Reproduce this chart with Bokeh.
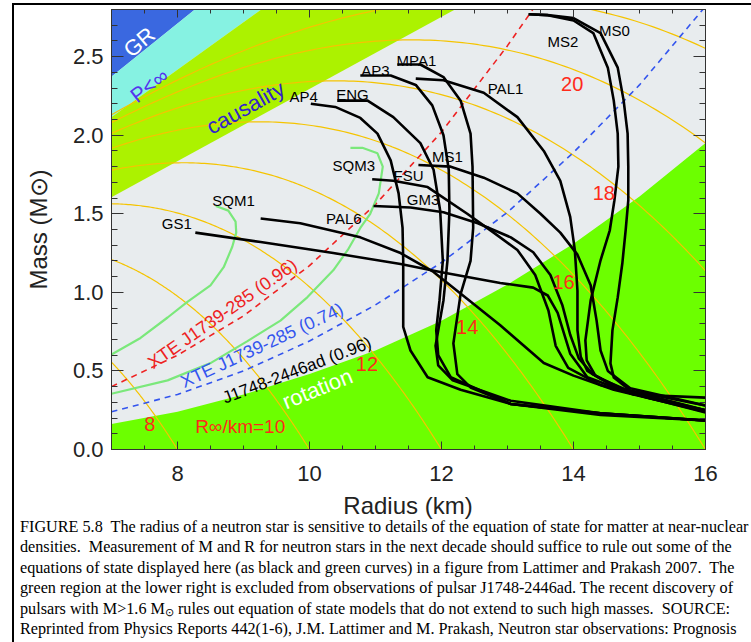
import numpy as np
from bokeh.plotting import figure
from bokeh.layouts import column
from bokeh.models import (Range1d, FixedTicker, LinearAxis, Label, ColumnDataSource,
                          PrintfTickFormatter, Div)
from bokeh.core.properties import value
from bokeh.embed import file_html
from bokeh.resources import INLINE

# ---------------- axes ----------------
x_ticks = [8, 10, 12, 14, 16]
y_ticks = [0.0, 0.5, 1.0, 1.5, 2.0, 2.5]
x_minor = list(np.arange(7.0, 16.01, 0.5))
y_minor = list(np.round(np.arange(0.0, 2.801, 0.1), 2))
x_title = "Radius (km)"
y_title = "Mass (M\u2299)"

# ---------------- excluded regions (R km, M Msun) ----------------
gr_R = [6.9, 8.56, 6.9]
gr_M = [2.34, 2.9, 2.9]
pinf_R = [6.9, 9.6, 8.56, 6.9]
pinf_M = [2.085, 2.9, 2.9, 2.34]
caus_R = [6.9, 12.64, 9.6, 6.9]
caus_M = [1.583, 2.9, 2.9, 2.085]
rot_R = [6.9, 7.0, 8.0, 9.0, 10.0, 11.0, 12.0, 13.0, 14.0, 15.0, 16.0, 16.1, 16.1, 6.9]
rot_M = [0.155, 0.163, 0.24, 0.35, 0.48, 0.63, 0.82, 1.05, 1.31, 1.61, 1.95, 1.99, -0.1, -0.1]

# XTE J1739-285 mass-shedding curves
xte96_R = [7.0, 8.0, 9.0, 10.0, 11.0, 12.0, 13.0, 13.4]
xte96_M = [0.40, 0.60, 0.85, 1.17, 1.56, 2.02, 2.57, 2.81]
xte74_R = [7.0, 8.0, 9.0, 10.0, 11.0, 12.0, 13.0, 14.0, 15.0, 16.0]
xte74_M = [0.24, 0.35, 0.50, 0.69, 0.92, 1.19, 1.51, 1.89, 2.32, 2.82]

# R_infinity contours (km)
rinf_values = [8, 10, 12, 14, 16, 18, 20, 22]
rs_per_msun = 2.953  # 2GM_sun/c^2 in km

# ---------------- equations of state ----------------
gs1_R = [8.27, 9.26, 10.36, 11.38, 11.98, 12.89, 13.39, 13.61, 13.76, 13.95, 14.21, 14.91, 16.0]
gs1_M = [1.38, 1.32, 1.25, 1.18, 1.13, 1.06, 1.03, 0.98, 0.87, 0.61, 0.46, 0.35, 0.33]
pal6_R = [9.26, 9.86, 10.77, 11.38, 11.88, 12.89, 13.55, 14.0, 14.61, 16.0]
pal6_M = [1.47, 1.44, 1.35, 1.25, 1.13, 0.79, 0.55, 0.47, 0.38, 0.24]
fsu_R = [10.95, 11.27, 11.79, 12.39, 12.79, 13.15, 13.42, 13.62, 13.73, 13.92, 14.41, 15.17, 16.0]
fsu_M = [1.72, 1.71, 1.67, 1.50, 1.38, 1.27, 1.11, 0.885, 0.66, 0.52, 0.41, 0.325, 0.25]
gm3_R = [10.97, 11.53, 12.03, 12.55, 13.05, 13.39, 13.65, 13.83, 13.95, 14.08, 14.29, 14.71, 16.0]
gm3_M = [1.55, 1.54, 1.51, 1.44, 1.35, 1.255, 1.11, 0.92, 0.73, 0.58, 0.48, 0.39, 0.25]
ms1_R = [11.65, 12.14, 12.64, 13.15, 13.5, 13.80, 14.06, 14.26, 14.35, 14.41, 14.52, 14.86, 16.0]
ms1_M = [1.81, 1.80, 1.73, 1.63, 1.50, 1.38, 1.24, 1.045, 0.82, 0.63, 0.50, 0.39, 0.28]
ap4_R = [10.02, 10.39, 10.77, 11.03, 11.23, 11.35, 11.41, 11.42, 11.42, 11.53, 11.79, 12.29, 13.05, 14.41, 16.0]
ap4_M = [2.20, 2.18, 2.11, 2.01, 1.84, 1.63, 1.41, 1.20, 0.78, 0.63, 0.46, 0.38, 0.29, 0.23, 0.185]
eng_R = [10.42, 10.88, 11.27, 11.68, 11.88, 11.98, 12.02, 11.97, 11.92, 11.95, 12.14, 13.05, 14.41, 16.0]
eng_M = [2.22, 2.22, 2.115, 1.95, 1.78, 1.52, 1.20, 0.95, 0.76, 0.60, 0.46, 0.29, 0.22, 0.185]
ap3_R = [10.77, 11.23, 11.61, 11.86, 12.03, 12.11, 12.12, 12.09, 12.03, 11.91, 11.95, 12.17, 13.05, 14.41, 16.0]
ap3_M = [2.38, 2.38, 2.32, 2.19, 2.00, 1.78, 1.52, 1.20, 0.95, 0.66, 0.535, 0.44, 0.31, 0.23, 0.185]
mpa1_R = [11.33, 11.68, 12.03, 12.29, 12.44, 12.47, 12.48, 12.44, 12.29, 12.18, 12.24, 12.44, 13.05, 14.41, 16.0]
mpa1_M = [2.45, 2.45, 2.37, 2.22, 2.01, 1.80, 1.41, 1.20, 0.99, 0.675, 0.48, 0.395, 0.29, 0.23, 0.185]
pal1_R = [11.61, 12.03, 12.64, 13.15, 13.55, 13.80, 13.95, 14.02, 14.06, 14.06, 14.11, 14.21, 14.41, 14.91, 16.0]
pal1_M = [2.36, 2.35, 2.27, 2.115, 1.90, 1.71, 1.48, 1.27, 1.01, 0.76, 0.59, 0.50, 0.45, 0.36, 0.25]
ms2_R = [13.32, 13.61, 14.0, 14.30, 14.52, 14.61, 14.67, 14.68, 14.62, 14.55, 14.41, 14.26, 14.18, 14.20, 14.33, 14.71, 16.0]
ms2_M = [2.77, 2.764, 2.73, 2.65, 2.43, 2.22, 2.01, 1.80, 1.586, 1.395, 1.204, 0.949, 0.694, 0.567, 0.471, 0.376, 0.236]
ms0_R = [13.32, 13.61, 14.0, 14.41, 14.67, 14.76, 14.82, 14.83, 14.83, 14.79, 14.74, 14.67, 14.59, 14.56, 14.61, 14.86, 16.0]
ms0_M = [2.77, 2.764, 2.745, 2.65, 2.43, 2.22, 2.01, 1.80, 1.586, 1.395, 1.185, 0.968, 0.758, 0.548, 0.459, 0.376, 0.28]
# strange quark matter (green)
sqm1_R = [8.58, 8.77, 8.88, 8.89, 8.83, 8.70, 8.5, 8.15, 7.85, 7.44, 7.0]
sqm1_M = [1.55, 1.52, 1.45, 1.38, 1.29, 1.16, 1.045, 0.94, 0.84, 0.71, 0.605]
sqm3_R = [10.62, 10.80, 11.03, 11.11, 11.05, 10.92, 10.77, 10.58, 10.36, 9.97, 9.56, 9.06, 8.5, 7.85, 7.0]
sqm3_M = [1.92, 1.92, 1.885, 1.80, 1.63, 1.50, 1.41, 1.27, 1.14, 0.97, 0.82, 0.69, 0.55, 0.44, 0.355]

eos_curves = [(gs1_R, gs1_M), (pal6_R, pal6_M), (fsu_R, fsu_M), (gm3_R, gm3_M), (ms1_R, ms1_M),
              (ap4_R, ap4_M), (eng_R, eng_M), (ap3_R, ap3_M), (mpa1_R, mpa1_M), (pal1_R, pal1_M),
              (ms2_R, ms2_M), (ms0_R, ms0_M)]
sqm_curves = [(sqm1_R, sqm1_M), (sqm3_R, sqm3_M)]

eos_names = ["GS1", "SQM1", "PAL6", "SQM3", "AP4", "ENG", "AP3", "MPA1", "PAL1", "MS2", "MS0", "MS1", "FSU", "GM3"]
eos_label_R = [7.99, 8.85, 10.52, 10.67, 9.91, 10.65, 11.0, 11.62, 12.97, 13.84, 14.62, 12.09, 11.5, 11.72]
eos_label_M = [1.441, 1.586, 1.469, 1.809, 2.244, 2.259, 2.414, 2.478, 2.297, 2.594, 2.664, 1.862, 1.745, 1.590]

rinf_labels = ["8", "12", "14", "16", "18", "20"]
rinf_label_R = [7.58, 10.87, 12.39, 13.85, 14.46, 13.98]
rinf_label_M = [0.164, 0.546, 0.779, 1.066, 1.633, 2.329]

caption_lines = [
    "FIGURE 5.8&nbsp; The radius of a neutron star is sensitive to details of the equation of state for matter at near-nuclear",
    "densities.&nbsp; Measurement of M and R for neutron stars in the next decade should suffice to rule out some of the",
    "equations of state displayed here (as black and green curves) in a figure from Lattimer and Prakash 2007.&nbsp; The",
    "green region at the lower right is excluded from observations of pulsar J1748-2446ad. The recent discovery of",
    "pulsars with M&gt;1.6 M<span style='font-size:11px;line-height:0;vertical-align:-2px'>\u2299</span> rules out equation of state models that do not extend to such high masses.&nbsp; SOURCE:",
    "Reprinted from Physics Reports 442(1-6), J.M. Lattimer and M. Prakash, Neutron star observations: Prognosis",
    "for equation of state constraints, pp. 109-165. Copyright 2007, with permission from Elsevier.",
]

FONT = "Liberation Sans"

p = figure(width=751, height=493, x_range=Range1d(7, 16), y_range=Range1d(0, 2.8),
           output_backend="svg", toolbar_location=None,
           min_border_left=111, min_border_right=46, min_border_top=9, min_border_bottom=44)
p.background_fill_color = "#e8ecee"
p.border_fill_color = "white"
p.outline_line_color = "#333333"
p.grid.visible = False

# regions
p.patch(gr_R, gr_M, fill_color="#3a68e0", line_color=None)
p.patch(pinf_R, pinf_M, fill_color="#86f2e2", line_color=None)
p.patch(caus_R, caus_M, fill_color="#acf200", line_color=None)
p.patch(rot_R, rot_M, fill_color="#6cff00", line_color=None)

# R_inf contours
for rinf in rinf_values:
    rr = np.linspace(7.0, rinf, 160)
    mm = rr / rs_per_msun * (1 - (rr / rinf) ** 2)
    keep = mm <= 2.9
    p.line(rr[keep], mm[keep], line_color="#f5c400", line_width=1.2)

# XTE curves
p.line(xte96_R, xte96_M, line_color="#ee2222", line_width=1.6, line_dash="6 5")
p.line(xte74_R, xte74_M, line_color="#3355ee", line_width=1.6, line_dash="6 5")

for r, m in sqm_curves:
    p.line(r, m, line_color="#7be87b", line_width=2.2)
for r, m in eos_curves:
    p.line(r, m, line_color="black", line_width=2.6, line_join="round")

src = ColumnDataSource(dict(x=eos_label_R, y=eos_label_M, t=eos_names))
p.text("x", "y", "t", source=src, text_font=value(FONT), text_font_size="15px",
       text_align="center", text_baseline="middle", text_color="black")
src2 = ColumnDataSource(dict(x=rinf_label_R, y=rinf_label_M, t=rinf_labels))
p.text("x", "y", "t", source=src2, text_font=value(FONT), text_font_size="20px",
       text_align="center", text_baseline="middle", text_color="#ff2a1a")

def lab(x, y, text, color, size, angle):
    p.add_layout(Label(x=x, y=y, text=text, text_color=color, text_font=FONT, text_font_size=size,
                       angle=angle, angle_units="deg", text_align="center", text_baseline="middle"))

lab(8.95, 0.146, "R\u221e/km=10", "#ff2a1a", "19px", 0)
lab(7.42, 2.592, "GR", "white", "22px", 40)
lab(7.57, 2.318, "P<\u221e", "#5533ee", "21px", 37)
lab(9.03, 2.175, "causality", "#3322cc", "22px", 29)
lab(10.12, 0.387, "rotation", "white", "22px", 22)
lab(9.81, 0.503, "J1748-2446ad (0.96)", "black", "17px", 21)
lab(9.28, 0.662, "XTE J1739-285 (0.74)", "#3355ee", "18px", 25)
lab(8.68, 0.864, "XTE J1739-285 (0.96)", "#ee2222", "18px", 35)

# axes styling
xa = p.xaxis[0]
ya = p.yaxis[0]
xa.ticker = FixedTicker(ticks=x_ticks, minor_ticks=x_minor)
ya.ticker = FixedTicker(ticks=y_ticks, minor_ticks=y_minor)
ya.formatter = PrintfTickFormatter(format="%.1f")
ya.axis_label = y_title
for ax, mj, mn, so, lso in [(xa, 8, 4, 16, 7), (ya, 12, 6, 8, 18)]:
    ax.major_tick_in = mj; ax.major_tick_out = 0
    ax.minor_tick_in = mn; ax.minor_tick_out = 0
    ax.axis_line_color = "#333333"; ax.major_tick_line_color = "#333333"; ax.minor_tick_line_color = "#333333"
    ax.major_label_text_font = FONT; ax.major_label_text_font_size = "22px"; ax.major_label_text_color = "#222222"
    ax.major_label_standoff = so
    ax.axis_label_text_font = FONT; ax.axis_label_text_font_size = "24px"
    ax.axis_label_text_font_style = "normal"; ax.axis_label_text_color = "#222222"
    ax.axis_label_standoff = lso

top = LinearAxis(ticker=FixedTicker(ticks=x_ticks, minor_ticks=x_minor), major_label_text_font_size="1px",
                 major_label_text_color=None, major_label_standoff=0, major_tick_in=8, major_tick_out=0,
                 minor_tick_in=4, minor_tick_out=0,
                 axis_line_color="#333333", major_tick_line_color="#333333", minor_tick_line_color="#333333")
p.add_layout(top, "above")
right = LinearAxis(ticker=FixedTicker(ticks=y_ticks, minor_ticks=y_minor), major_label_text_font_size="1px",
                   major_label_text_color=None, major_label_standoff=0, major_tick_in=12, major_tick_out=0,
                   minor_tick_in=6, minor_tick_out=0,
                   axis_line_color="#333333", major_tick_line_color="#333333", minor_tick_line_color="#333333")
p.add_layout(right, "right")

# x-axis title + caption (below the plot)
rows = []
for i, line in enumerate(caption_lines):
    if i in (0, len(caption_lines) - 1):
        rows.append("<div style='white-space:nowrap;'>%s</div>" % line)
    else:
        rows.append("<div style='width:702px;white-space:nowrap;text-align:justify;text-align-last:justify;'>%s</div>" % line)
DIV_H = 642 - 493
html = (
    "<div style=\"position:relative;width:751px;height:%dpx;\">" % DIV_H
    + "<div style=\"position:absolute;left:12px;top:-490px;width:2px;height:%dpx;background:#000;\"></div>" % (490 + DIV_H)
    + "<div style=\"position:absolute;left:12px;top:-490px;width:739px;height:2px;background:#000;\"></div>"
    + "<div style=\"margin-left:111px;width:594px;height:26px;line-height:26px;text-align:center;"
      "font-family:'Liberation Sans',Arial,sans-serif;font-size:24px;color:#222;\">%s</div>" % x_title
    + "<div style=\"margin-top:-2px;margin-left:20px;width:731px;height:%dpx;overflow:hidden;" % (DIV_H - 24)
    + "font-family:'Liberation Serif','Times New Roman',serif;font-size:16.2px;line-height:20.4px;color:#000;\">"
    + "".join(rows) + "</div></div>"
)
cap = Div(text=html, width=751, height=DIV_H, margin=(0, 0, 0, 0))

layout = column(p, cap, spacing=0)
open("out.html", "w").write(file_html(layout, INLINE))
